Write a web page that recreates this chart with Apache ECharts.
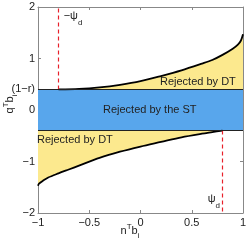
<!DOCTYPE html>
<html><head><meta charset="utf-8">
<script src="https://cdn.jsdelivr.net/npm/echarts@6/dist/echarts.min.js"></script>
<style>html,body{margin:0;padding:0;background:#fff}#c{width:249px;height:242px}</style>
</head><body><div id="c"></div>
<script>
// Upper boundary of the DT rejection region (q^T b_i vs n^T b_i)
const upperX = [-0.8, -0.6, -0.4, -0.2, 0, 0.2, 0.4, 0.6, 0.7, 0.8, 0.9, 0.95, 0.98, 1.0];
const upperY = [0.40, 0.41, 0.44, 0.49, 0.56, 0.66, 0.77, 0.90, 0.97, 1.07, 1.19, 1.27, 1.35, 1.47];
// Lower boundary
const lowerX = [-1.0, -0.99, -0.95, -0.9, -0.8, -0.7, -0.6, -0.4, -0.2, 0, 0.2, 0.4, 0.6, 0.7, 0.8];
const lowerY = [-1.47, -1.43, -1.37, -1.31, -1.23, -1.155, -1.08, -0.93, -0.81, -0.71, -0.62, -0.53, -0.46, -0.43, -0.40];
const bandLimit = 0.4;   // (1-r)
const psiD = 0.8;
const xTicks = [-1, -0.5, 0, 0.5, 1];
const yTicks = [-2, -1, 0, 1, 2];
const yLabelVals = [-2, -1, 0, 0.4, 1, 2];

const FONT = 'Liberation Sans, Arial, sans-serif';
const YELLOW = '#FCE98E';
const BLUE = '#58A6EC';
const fmtNum = v => (v < 0 ? '\u2212' : '') + String(Math.abs(v));

const chart = echarts.init(document.getElementById('c'), null, {renderer: 'canvas'});
const pair = (xs, ys) => xs.map((x, i) => [x, ys[i]]);

const baseAxis = {
  type: 'value', axisLine: {show: true, onZero: false, lineStyle: {color: '#888', width: 1}},
  axisTick: {show: true, inside: true, length: 3, lineStyle: {color: '#888'}},
  splitLine: {show: false}
};

chart.setOption({
  animation: false,
  grid: {left: 38, right: 6, top: 7, bottom: 29, containLabel: false, outerBoundsMode: 'none'},
  xAxis: [
    Object.assign({}, baseAxis, {min: -1, max: 1, interval: 0.5, position: 'bottom',
      axisLabel: {color: '#222', fontSize: 11, fontFamily: FONT, margin: 4, formatter: fmtNum}
    }),
    Object.assign({}, baseAxis, {min: -1, max: 1, interval: 0.5, position: 'top', axisLabel: {show: false}})
  ],
  yAxis: [
    Object.assign({}, baseAxis, {min: -2, max: 2, position: 'left',
      axisTick: {show: true, inside: true, length: 3, lineStyle: {color: '#888'}, customValues: yTicks},
      axisLabel: {color: '#222', fontSize: 11, fontFamily: FONT, margin: 3, customValues: yLabelVals,
        formatter: v => Math.abs(v - bandLimit) < 1e-9 ? '(1\u2212r)' : fmtNum(v)}
    }),
    Object.assign({}, baseAxis, {min: -2, max: 2, interval: 1, position: 'right', axisLabel: {show: false}})
  ],
  series: [
    {
      type: 'line', data: [[-1, 0], [1, 0]], symbol: 'none', lineStyle: {width: 0, opacity: 0},
      silent: true, z: 1,
      markArea: {silent: true, itemStyle: {color: BLUE, opacity: 1},
        data: [[{yAxis: -bandLimit, xAxis: -1}, {yAxis: bandLimit, xAxis: 1}]]},
      markLine: {silent: true, symbol: 'none', label: {show: false},
        lineStyle: {color: '#222', width: 1.2, type: 'solid'},
        data: [{yAxis: bandLimit}, {yAxis: -bandLimit}]}
    },
    {
      type: 'line', data: pair(upperX, upperY), symbol: 'none', smooth: 0.3, z: 3,
      lineStyle: {color: '#000', width: 1.8},
      areaStyle: {color: YELLOW, opacity: 1, origin: bandLimit}
    },
    {
      type: 'line', data: pair(lowerX, lowerY), symbol: 'none', smooth: 0.3, z: 3,
      lineStyle: {color: '#000', width: 1.8},
      areaStyle: {color: YELLOW, opacity: 1, origin: -bandLimit}
    },
    {
      type: 'line', data: [[-psiD, bandLimit], [-psiD, 2]], symbol: 'none', z: 4,
      lineStyle: {color: '#E8202A', width: 1.2, type: [4, 3]}
    },
    {
      type: 'line', data: [[psiD, -bandLimit], [psiD, -2]], symbol: 'none', z: 4,
      lineStyle: {color: '#E8202A', width: 1.2, type: [4, 3]}
    }
  ]
});

const px = (x, y) => chart.convertToPixel({xAxisIndex: 0, yAxisIndex: 0}, [x, y]);
const txt = (pos, text, align, rich, rot) => ({
  type: 'text', x: pos[0], y: pos[1], z: 10, rotation: rot || 0,
  style: {text: text, font: '11px ' + FONT, fill: '#222', align: align, verticalAlign: 'middle', rich: rich}
});
const subRich = {
  p: {fontSize: 11, fontFamily: FONT, fill: '#222', lineHeight: 14, verticalAlign: 'middle'},
  d: {fontSize: 8, fontFamily: FONT, fill: '#222', lineHeight: 14, verticalAlign: 'bottom', padding: [0, 0, -4, 0]},
  s: {fontSize: 8, fontFamily: FONT, fill: '#222', lineHeight: 14, verticalAlign: 'top', padding: [-1, 0, 0, 0]},
  i: {fontSize: 8, fontFamily: FONT, fill: '#222', lineHeight: 14, verticalAlign: 'bottom', padding: [0, 0, -2, 0]}
};
chart.setOption({
  graphic: [
    txt(px(0.56, 0.55), 'Rejected by DT', 'center'),
    txt(px(-0.64, -0.59), 'Rejected by DT', 'center'),
    txt(px(0.09, 0), 'Rejected by the ST', 'center'),
    txt(px(-0.75, 1.83), '{p|\u2212\u03C8}{d|d}', 'left', subRich),
    txt(px(0.775, -1.72), '{p|\u03C8}{d|d}', 'right', subRich),
    txt([130, 231], '{p|n}{s|T}{p|b}{i|i}', 'center', subRich),
    txt([10, 104], '{p|q}{s|T}{p|b}{i|i}', 'center', subRich, Math.PI / 2)
  ]
});
</script></body></html>
